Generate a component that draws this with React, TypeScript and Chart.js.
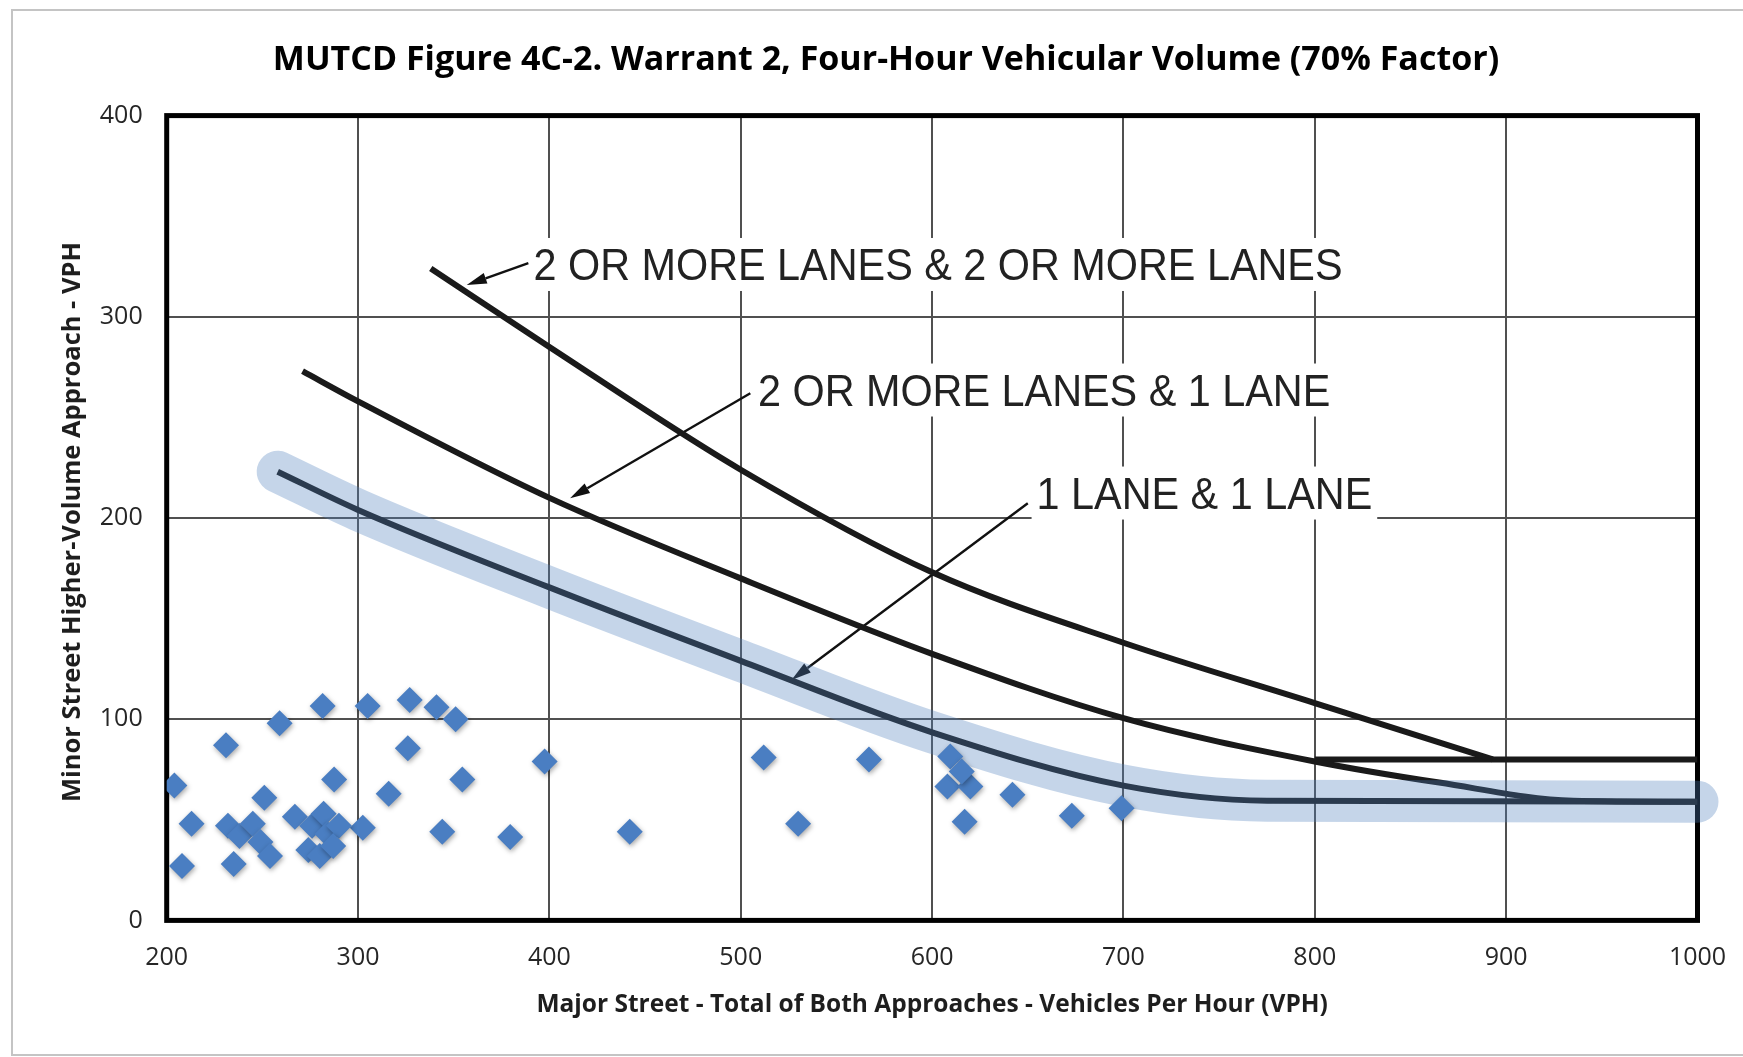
import React, { useEffect, useRef } from 'react';
import { Chart, registerables } from 'chart.js';

Chart.register(...registerables);

// ---------------- DATA ----------------
const TITLE = 'MUTCD Figure 4C-2. Warrant 2, Four-Hour Vehicular Volume (70% Factor)';
const X_TITLE = 'Major Street - Total of Both Approaches - Vehicles Per Hour (VPH)';
const Y_TITLE = 'Minor Street Higher-Volume Approach - VPH';

const X_MIN = 200;
const X_MAX = 1000;
const X_STEP = 100;
const Y_MIN = 0;
const Y_MAX = 400;
const Y_STEP = 100;

// Warrant curves (major VPH, minor VPH)
const curveTwoPlusTwoPlus = [
  { x: 338, y: 324 }, { x: 400, y: 285 }, { x: 500, y: 224 }, { x: 600, y: 173 },
  { x: 700, y: 138 }, { x: 800, y: 108 }, { x: 893, y: 80 },
];
const curveTwoPlusOne = [
  { x: 271, y: 273 }, { x: 300, y: 258 }, { x: 400, y: 210 }, { x: 500, y: 170 },
  { x: 600, y: 132.5 }, { x: 700, y: 100.5 }, { x: 800, y: 79 }, { x: 865, y: 68.5 },
  { x: 935, y: 59.5 }, { x: 1000, y: 59 },
];
const curveOneOne = [
  { x: 258, y: 223 }, { x: 300, y: 204 }, { x: 400, y: 165.5 }, { x: 500, y: 129 },
  { x: 600, y: 93.5 }, { x: 700, y: 67 }, { x: 775, y: 59.5 }, { x: 1000, y: 59 },
];
const threshold80 = [{ x: 800, y: 80 }, { x: 1000, y: 80 }];

// Observed hourly volumes
const observedMajorVph = [
  204, 213, 208, 231, 235, 251, 259, 281.5, 305, 327, 341, 351, 326, 287.5, 316, 354.5,
  302.5, 344, 379.5, 397.5, 442, 512, 530, 567, 609.5, 608, 620, 615.5, 617, 642, 673, 699,
  232, 238, 245, 249, 254, 267, 276, 282, 284, 290, 274, 280, 287,
];
const observedMinorVph = [
  67, 48, 27, 87, 28, 61, 98, 106.5, 106.5, 109.5, 106, 100, 85.5, 70, 63, 70,
  46, 44, 41.5, 79, 44, 81, 48, 80, 81.5, 66.5, 66.5, 74, 49, 62.5, 52, 55.7,
  47, 42, 48, 39, 32, 51.5, 47, 53, 43, 47, 35, 32, 37,
];

// Curve annotations (text anchor = left baseline; arrow from -> to), in data units
const curveLabels = ['2 OR MORE LANES & 2 OR MORE LANES', '2 OR MORE LANES & 1 LANE', '1 LANE & 1 LANE'];
const labelAnchors = [
  { x: 391.7, y: 318.3 },
  { x: 509, y: 255.9 },
  { x: 654.6, y: 204.7 },
];
const arrowFrom = [
  { x: 389, y: 326.7 },
  { x: 505, y: 262 },
  { x: 650, y: 207.3 },
];
const arrowTo = [
  { x: 356.8, y: 315.8 },
  { x: 410.8, y: 209.8 },
  { x: 526.5, y: 119.5 },
];

// ---------------- PLUGIN ----------------
const decorPlugin = {
  id: 'decor',
  beforeDatasetsDraw(chart: any) {
    const { ctx, chartArea: a, scales } = chart;
    const xs = scales.x;
    const ys = scales.y;
    ctx.save();
    // plot frame
    ctx.strokeStyle = '#000';
    ctx.lineWidth = 5;
    ctx.strokeRect(a.left, a.top, a.right - a.left, a.bottom - a.top);

    // labels with white box
    const fs = 44;
    const sx = 0.94;
    ctx.font = `${fs}px "Liberation Sans", Arial, sans-serif`;
    curveLabels.forEach((t, i) => {
      const px = xs.getPixelForValue(labelAnchors[i].x);
      const py = ys.getPixelForValue(labelAnchors[i].y);
      const w = ctx.measureText(t).width * sx;
      ctx.fillStyle = '#fff';
      ctx.fillRect(px - 5, py - 42, w + 10, 53);
      ctx.save();
      ctx.translate(px, py);
      ctx.scale(sx, 1);
      ctx.fillStyle = '#222';
      ctx.textBaseline = 'alphabetic';
      ctx.textAlign = 'left';
      ctx.fillText(t, 0, 0);
      ctx.restore();
    });

    // arrows
    ctx.strokeStyle = '#111';
    ctx.fillStyle = '#111';
    ctx.lineWidth = 2.4;
    arrowFrom.forEach((f, i) => {
      const x0 = xs.getPixelForValue(f.x);
      const y0 = ys.getPixelForValue(f.y);
      const x1 = xs.getPixelForValue(arrowTo[i].x);
      const y1 = ys.getPixelForValue(arrowTo[i].y);
      const ang = Math.atan2(y1 - y0, x1 - x0);
      const len = 20;
      const hw = 5.5;
      const bx = x1 - Math.cos(ang) * len;
      const by = y1 - Math.sin(ang) * len;
      ctx.beginPath();
      ctx.moveTo(x0, y0);
      ctx.lineTo(bx, by);
      ctx.stroke();
      ctx.beginPath();
      ctx.moveTo(x1, y1);
      ctx.lineTo(bx + Math.sin(ang) * hw, by - Math.cos(ang) * hw);
      ctx.lineTo(bx - Math.sin(ang) * hw, by + Math.cos(ang) * hw);
      ctx.closePath();
      ctx.fill();
    });
    ctx.restore();
  },
  beforeDatasetDraw(chart: any, args: any) {
    if (args.meta && args.meta._dataset && args.meta._dataset.isObserved) {
      const ctx = chart.ctx;
      ctx.save();
      ctx.shadowColor = 'rgba(0,0,0,0.35)';
      ctx.shadowBlur = 5;
      ctx.shadowOffsetX = 1;
      ctx.shadowOffsetY = 2;
    }
  },
  afterDatasetDraw(chart: any, args: any) {
    if (args.meta && args.meta._dataset && args.meta._dataset.isObserved) {
      chart.ctx.restore();
    }
  },
  afterDraw(chart: any) {
    const { ctx, chartArea: a } = chart;
    ctx.save();
    // outer frame
    ctx.strokeStyle = '#c4c4c4';
    ctx.lineWidth = 2;
    ctx.strokeRect(12, 10, 1745, 1045);
    // title
    ctx.fillStyle = '#000';
    ctx.textAlign = 'center';
    ctx.textBaseline = 'middle';
    ctx.font = 'bold 34px "Open Sans", sans-serif';
    ctx.fillText(TITLE, 886, 60);
    // axis titles
    ctx.fillStyle = '#1e1e1e';
    ctx.font = 'bold 24.5px "Open Sans", sans-serif';
    ctx.fillText(X_TITLE, (a.left + a.right) / 2, 1005);
    ctx.font = 'bold 25.5px "Open Sans", sans-serif';
    ctx.translate(73, (a.top + a.bottom) / 2 + 4);
    ctx.rotate(-Math.PI / 2);
    ctx.fillText(Y_TITLE, 0, 0);
    ctx.restore();
  },
};

// ---------------- COMPONENT ----------------
export default function App() {
  const ref = useRef<HTMLCanvasElement | null>(null);

  useEffect(() => {
    if (!ref.current) return;
    const curveStyle = {
      type: 'scatter',
      showLine: true,
      borderColor: '#1a1a1a',
      borderWidth: 6,
      pointRadius: 0,
      pointHoverRadius: 0,
      cubicInterpolationMode: 'monotone',
      borderCapStyle: 'butt',
      fill: false,
    };
    const chart = new Chart(ref.current, {
      type: 'scatter',
      data: {
        datasets: [
          {
            label: 'Observed',
            isObserved: true,
            data: observedMajorVph.map((x, i) => ({ x, y: observedMinorVph[i] })),
            pointStyle: 'rectRot',
            pointRadius: 13,
            pointHoverRadius: 13,
            backgroundColor: '#4a7ec2',
            borderWidth: 0,
            order: 0,
          } as any,
          {
            ...curveStyle,
            label: 'Highlight',
            data: curveOneOne,
            borderColor: 'rgba(79,129,189,0.33)',
            borderWidth: 42,
            borderCapStyle: 'round',
            borderJoinStyle: 'round',
            clip: false,
            order: 1,
          } as any,
          { ...curveStyle, label: '1 LANE & 1 LANE', data: curveOneOne, order: 2 } as any,
          { ...curveStyle, label: '2 OR MORE LANES & 1 LANE', data: curveTwoPlusOne, order: 2 } as any,
          { ...curveStyle, label: '2 OR MORE LANES & 2 OR MORE LANES', data: curveTwoPlusTwoPlus, order: 2 } as any,
          { ...curveStyle, label: '80 VPH', data: threshold80, cubicInterpolationMode: 'default', order: 2 } as any,
        ],
      },
      options: {
        responsive: false,
        animation: false,
        events: [],
        layout: { padding: { left: 66.7, top: 115.6, right: 45.5, bottom: 56.6 } },
        plugins: {
          legend: { display: false },
          tooltip: { enabled: false },
          title: { display: false },
        },
        scales: {
          x: {
            type: 'linear',
            min: X_MIN,
            max: X_MAX,
            ticks: {
              stepSize: X_STEP,
              padding: 22,
              color: '#262626',
              font: { family: '"Open Sans", sans-serif', size: 25 },
              callback: (v: any) => String(v),
            },
            grid: { color: '#505050', lineWidth: 2, drawTicks: false },
            border: { display: false },
            afterFit: (s: any) => {
              s.height = 80;
              s.paddingLeft = 0;
              s.paddingRight = 0;
            },
          },
          y: {
            type: 'linear',
            min: Y_MIN,
            max: Y_MAX,
            ticks: {
              stepSize: Y_STEP,
              padding: 24,
              color: '#262626',
              font: { family: '"Open Sans", sans-serif', size: 25 },
              callback: (v: any) => String(v),
            },
            grid: { color: '#505050', lineWidth: 2, drawTicks: false },
            border: { display: false },
            afterFit: (s: any) => {
              s.width = 100;
              s.paddingTop = 0;
              s.paddingBottom = 0;
            },
          },
        },
      } as any,
      plugins: [decorPlugin as any],
    });
    return () => chart.destroy();
  }, []);

  return (
    <div style={{ position: 'fixed', left: 0, top: 0, width: 1743, height: 1057, background: '#fff' }}>
      <canvas ref={ref} width={1743} height={1057} style={{ display: 'block' }} />
    </div>
  );
}
